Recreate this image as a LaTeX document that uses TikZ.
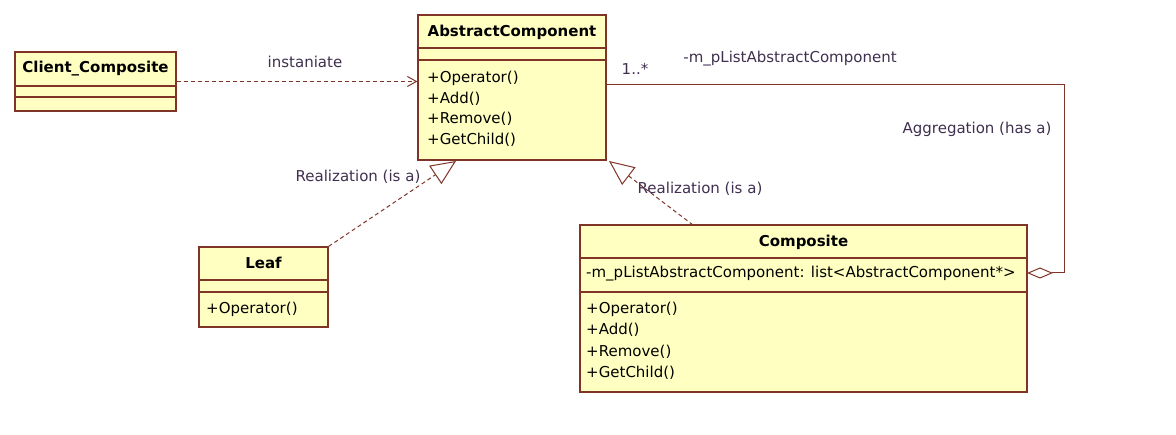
\documentclass[tikz,border=0pt]{standalone}
\usepackage{fontspec}
\setmainfont{DejaVu Sans}
\usetikzlibrary{arrows.meta}
\definecolor{umlfill}{RGB}{255,255,194}
\definecolor{umlline}{RGB}{128,52,40}
\definecolor{lbl}{RGB}{64,48,80}
\tikzset{
  cls/.style={draw=umlline, fill=umlfill, line width=1.2pt, inner sep=0pt},
  sep/.style={draw=umlline, line width=1.2pt},
  ttl/.style={font=\fontsize{15}{18}\selectfont\bfseries, text=black, inner sep=0pt},
  mem/.style={font=\fontsize{15}{18}\selectfont, text=black, inner sep=0pt, anchor=west},
  lab/.style={font=\fontsize{15}{18}\selectfont, text=lbl, inner sep=0pt},
  conn/.style={draw=umlline, line width=1pt},
  dep/.style={conn, dashed, dash pattern=on 4pt off 3pt, -{Straight Barb[length=9pt,width=10pt]}},
  real/.style={conn, dashed, dash pattern=on 4pt off 3pt, -{Triangle[open,length=25pt,width=22pt,fill=white]}},
  agg/.style={conn, -{Diamond[open,length=26pt,width=11pt,fill=white]}}
}
\begin{document}
\begin{tikzpicture}[x=1pt,y=-1pt]
\useasboundingbox (0,0) rectangle (1176,435);
\fill[white] (0,0) rectangle (1176,435);

% Client_Composite
\node[cls, minimum width=161pt, minimum height=59pt] (cc) at (95.5,81.5) {};
\draw[sep] (15,86) -- (176,86) (15,97) -- (176,97);
\node[ttl] (cct) at (95.5,69) {Client\_Composite};

% AbstractComponent
\node[cls, minimum width=188pt, minimum height=145pt] (ac) at (512,87.5) {};
\draw[sep] (418,48) -- (606,48) (418,60) -- (606,60);
\node[ttl] (act) at (512,32) {AbstractComponent};
\node[mem] (ac1) at (427,78) {+Operator()};
\node[mem] (ac2) at (427,99) {+Add()};
\node[mem] (ac3) at (427,119) {+Remove()};
\node[mem] (ac4) at (427,140) {+GetChild()};

% Leaf
\node[cls, minimum width=129pt, minimum height=80pt] (leaf) at (263.5,287) {};
\draw[sep] (199,280) -- (328,280) (199,292) -- (328,292);
\node[ttl] (leaft) at (263.5,263) {Leaf};
\node[mem] (leaf1) at (206,309) {+Operator()};

% Composite
\node[cls, minimum width=447pt, minimum height=167pt] (comp) at (803.5,308.5) {};
\draw[sep] (580,258) -- (1027,258) (580,292) -- (1027,292);
\node[ttl] (compt) at (803.5,242) {Composite};
\node[mem] (compa) at (586,274) {-m\_pListAbstractComponent: list<AbstractComponent*>};
\node[mem] (comp1) at (586,309) {+Operator()};
\node[mem] (comp2) at (586,330) {+Add()};
\node[mem] (comp3) at (586,352) {+Remove()};
\node[mem] (comp4) at (586,373) {+GetChild()};

% connectors
\draw[dep] (cc.east) -- (cc.east -| ac.west);
\node[lab] (linst) at (305,62) {instaniate};

\coordinate (leaftip) at (456,161);
\draw[real] (leaf.north east) -- (leaftip);
\node[lab] (lreal1) at (358,177) {Realization (is a)};

\coordinate (comptop) at (693,225);
\coordinate (comptip) at (609,161);
\draw[real] (comptop) -- (comptip);
\node[lab] (lreal2) at (700,189) {Realization (is a)};

\coordinate (aggstart) at (606,85);
\coordinate (aggcorner) at (1064,85);
\coordinate (aggend) at (1027,273);
\draw[agg] (aggstart) -- (aggcorner) |- (aggend);
\node[lab] (lmult) at (635,69) {1..*};
\node[lab] (lrole) at (790,59) {-m\_pListAbstractComponent};
\node[lab] (lagg) at (977,129) {Aggregation (has a)};
\end{tikzpicture}
\end{document}
